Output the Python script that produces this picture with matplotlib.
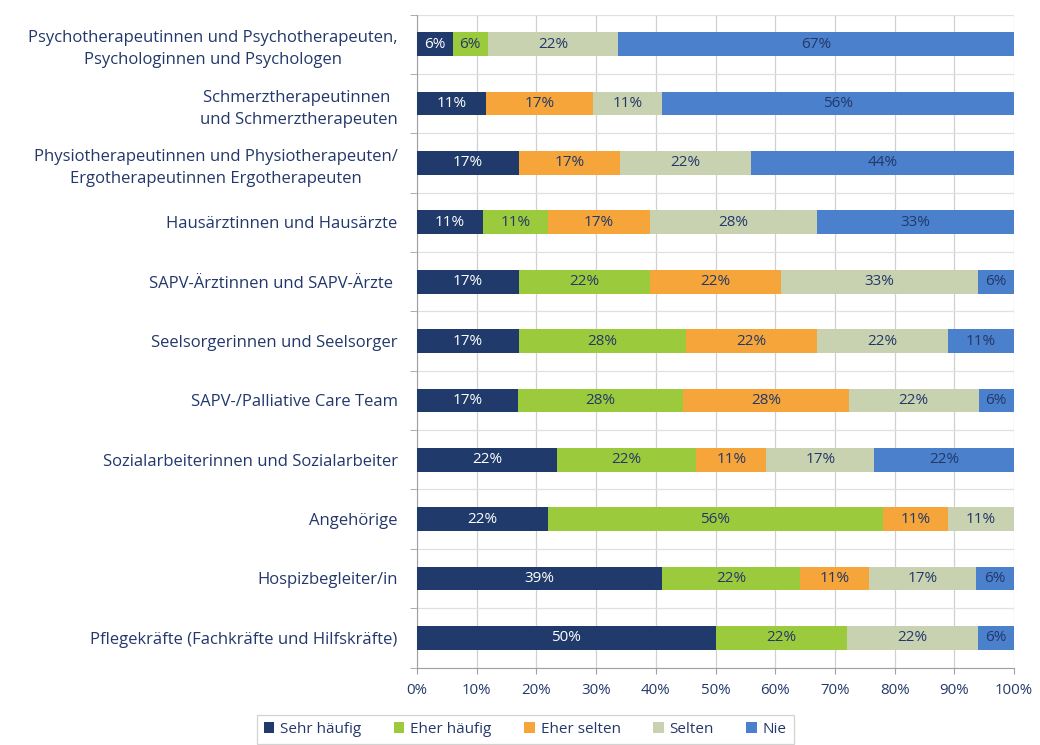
import numpy as np
import matplotlib
matplotlib.use("Agg")
import matplotlib.pyplot as plt

# --- DATA (labels as printed in the chart, bars are normalised to 100%) ---
categories = [
    "Psychotherapeutinnen und Psychotherapeuten,\nPsychologinnen und Psychologen",
    "Schmerztherapeutinnen \nund Schmerztherapeuten",
    "Physiotherapeutinnen und Physiotherapeuten/\nErgotherapeutinnen Ergotherapeuten",
    "Hausärztinnen und Hausärzte",
    "SAPV-Ärztinnen und SAPV-Ärzte ",
    "Seelsorgerinnen und Seelsorger",
    "SAPV-/Palliative Care Team",
    "Sozialarbeiterinnen und Sozialarbeiter",
    "Angehörige",
    "Hospizbegleiter/in",
    "Pflegekräfte (Fachkräfte und Hilfskräfte)",
]
series_names = ["Sehr häufig", "Eher häufig", "Eher selten", "Selten", "Nie"]

sehr_haeufig = [6, 11, 17, 11, 17, 17, 17, 22, 22, 39, 50]
eher_haeufig = [6, 0, 0, 11, 22, 28, 28, 22, 56, 22, 22]
eher_selten = [0, 17, 17, 17, 22, 22, 28, 11, 11, 11, 0]
selten = [22, 11, 22, 28, 33, 22, 22, 17, 11, 17, 22]
nie = [67, 56, 44, 33, 6, 11, 6, 22, 0, 6, 6]

colors = ["#1f3a6b", "#9bcb3c", "#f5a53a", "#c8d2b0", "#4a80cc"]
text_color = "#23386a"
label_colors = ["white", text_color, text_color, text_color, text_color]

values = np.array([sehr_haeufig, eher_haeufig, eher_selten, selten, nie], dtype=float)
shares = values / values.sum(axis=0) * 100

plt.rcParams['font.family'] = ['Open Sans', 'DejaVu Sans']

fig = plt.figure(figsize=(10.4, 7.45), dpi=100)
ax = fig.add_axes([0.401, 0.104, 0.574, 0.8765])

y = np.arange(len(categories))
left = np.zeros(len(categories))
for i, name in enumerate(series_names):
    bars = ax.barh(y, shares[i], left=left, height=0.4, color=colors[i],
                   label=name, zorder=3)
    for j, b in enumerate(bars):
        if values[i, j] > 0:
            ax.text(left[j] + shares[i, j] / 2, y[j], f"{int(values[i, j])}%",
                    ha="center", va="center", fontsize=11,
                    color=label_colors[i], zorder=4)
    left += shares[i]

ax.set_xlim(0, 100)
ax.set_ylim(len(categories) - 0.5, -0.5)
ax.set_xticks(np.arange(0, 101, 10))
ax.set_xticklabels([f"{t}%" for t in range(0, 101, 10)], fontsize=10.8, color=text_color)

# category labels, ticks at the boundaries
ax.set_yticks(y)
ax.set_yticklabels(categories, fontsize=12, color=text_color, linespacing=1.5,
                   multialignment="center")
ax.tick_params(axis="y", length=0, pad=14)
ax.set_yticks(np.arange(-0.5, len(categories), 1), minor=True)
ax.tick_params(axis="y", which="minor", length=5, color="#a0a0a0")
ax.tick_params(axis="x", length=4, color="#a0a0a0", pad=7)

ax.grid(axis="x", color="#d0d0d0", linewidth=0.9, zorder=0)
ax.grid(axis="y", which="minor", color="#e0e0e0", linewidth=0.9, zorder=0)
for side in ["top", "right"]:
    ax.spines[side].set_visible(False)
for side in ["left", "bottom"]:
    ax.spines[side].set_color("#a0a0a0")

leg = fig.legend(loc="center", bbox_to_anchor=(0.505, 0.021), ncol=5,
                 fontsize=11, frameon=True, fancybox=False,
                 handlelength=0.7, handleheight=0.7, handletextpad=0.4,
                 columnspacing=2.1, borderpad=0.45)
leg.get_frame().set_edgecolor("#c8c8c8")
leg.get_frame().set_linewidth(0.9)
for t in leg.get_texts():
    t.set_color(text_color)

plt.savefig("out.png", dpi=100)
plt.close()
